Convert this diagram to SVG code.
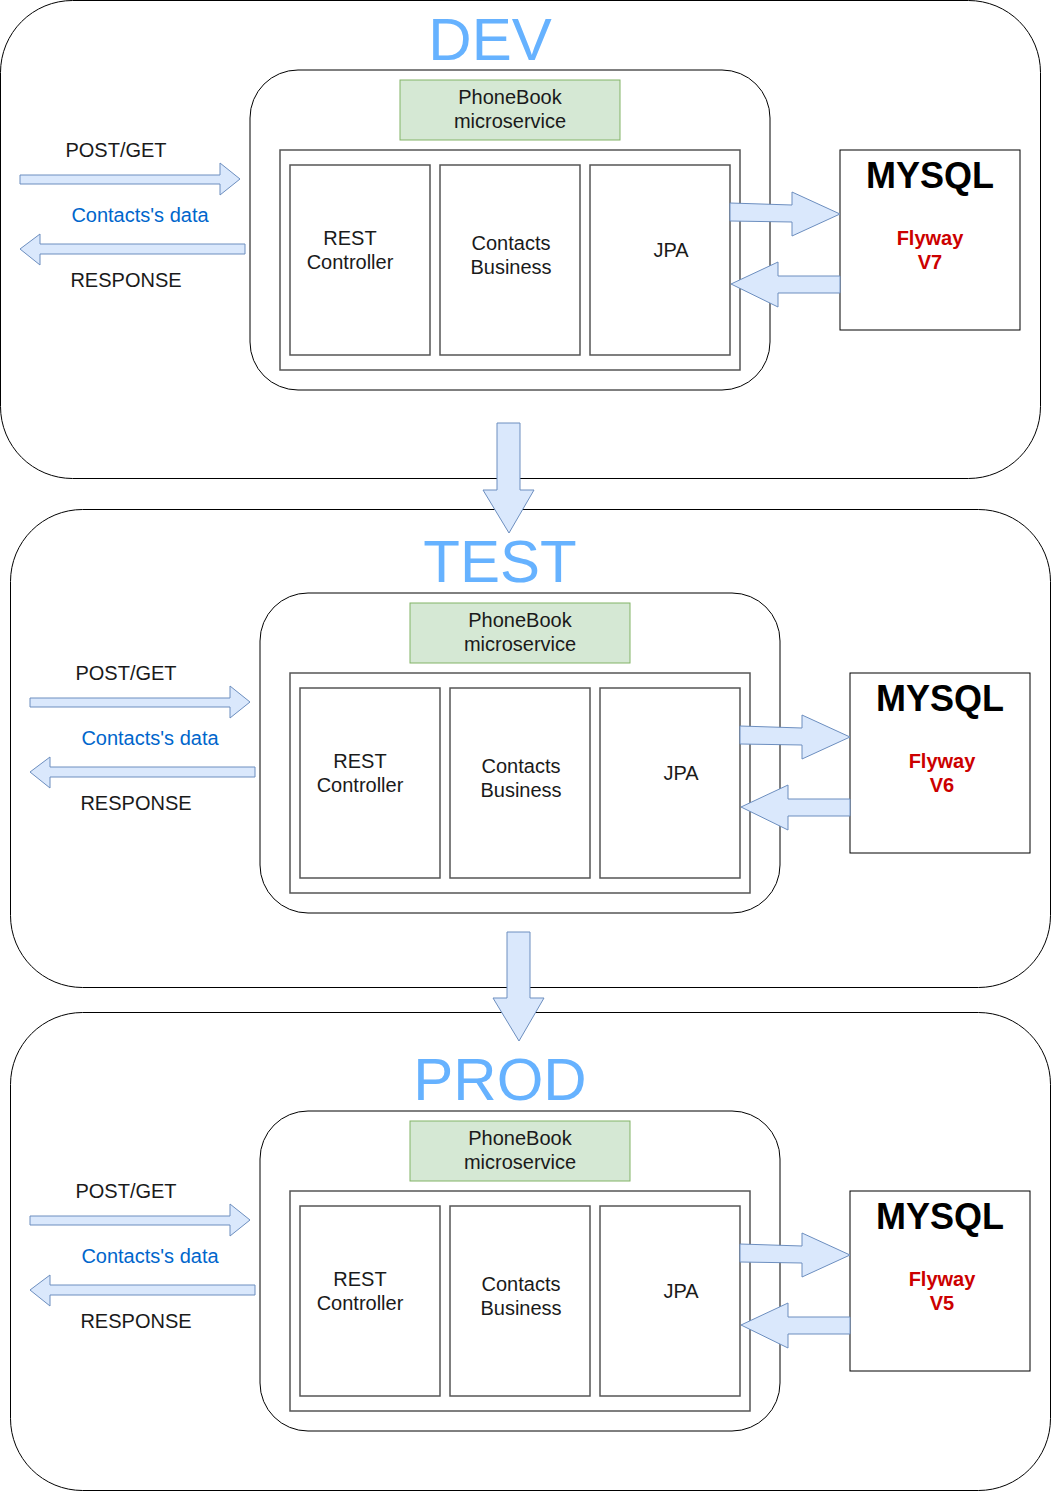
<svg xmlns="http://www.w3.org/2000/svg" width="1051" height="1491" viewBox="0 0 1051 1491">
<defs>
<style>
text{font-family:"Liberation Sans",Arial,sans-serif;font-size:20px;text-anchor:middle;fill:#1a1a1a}
.env{fill:#fff;stroke:#000;stroke-width:1}
.svc{fill:#fff;stroke:#000;stroke-width:1}
.green{fill:#d5e8d4;stroke:#82b366;stroke-width:1}
.box{fill:#fff;stroke:#555;stroke-width:1.5}
.db{fill:#fff;stroke:#000;stroke-width:1}
.arr{fill:#dae8fc;stroke:#6c8ebf;stroke-width:1}
.title{font-size:60px;fill:#66b2ff}
.blue{fill:#0066cc}
.mysql{font-size:36px;font-weight:bold;fill:#000}
.fly{font-weight:bold;fill:#cc0000}
</style>
<g id="section">
<rect class="svc" x="250" y="70" width="520" height="320" rx="48" ry="48"/>
<rect class="green" x="400" y="80" width="220" height="60"/>
<text x="510" y="104">PhoneBook</text>
<text x="510" y="128">microservice</text>
<rect class="box" x="280" y="150" width="460" height="220"/>
<rect class="box" x="290" y="165" width="140" height="190"/>
<rect class="box" x="440" y="165" width="140" height="190"/>
<rect class="box" x="590" y="165" width="140" height="190"/>
<text x="350" y="245">REST</text>
<text x="350" y="269">Controller</text>
<text x="511" y="250">Contacts</text>
<text x="511" y="274">Business</text>
<text x="671" y="257">JPA</text>
<rect class="db" x="840" y="150" width="180" height="180"/>
<text class="mysql" x="930" y="188">MYSQL</text>
<text x="116" y="157">POST/GET</text>
<text class="blue" x="140" y="222">Contacts's data</text>
<text x="126" y="287">RESPONSE</text>
<path class="arr" d="M20,175 L220,175 L220,163 L240,179 L220,195 L220,184 L20,184 Z"/>
<path class="arr" d="M245,244 L40,244 L40,234 L20,249 L40,265 L40,254 L245,254 Z"/>
<path class="arr" d="M730,203 L792,205 L792,192 L840,214 L792,236 L792,222 L730,221 Z"/>
<path class="arr" d="M840,276 L778,276 L778,262 L731,284 L778,307 L778,293 L840,293 Z"/>
</g>
</defs>
<g id="dev">
<rect class="env" x="0.5" y="0.5" width="1040" height="478" rx="72" ry="72"/>
<text class="title" x="490" y="60">DEV</text>
<use href="#section"/>
<text class="fly" x="930" y="245">Flyway</text>
<text class="fly" x="930" y="269">V7</text>
</g>
<g id="test">
<rect class="env" x="10.5" y="509.5" width="1040" height="478" rx="72" ry="72"/>
<text class="title" x="500" y="582">TEST</text>
<use href="#section" transform="translate(10,523)"/>
<text class="fly" x="942" y="768">Flyway</text>
<text class="fly" x="942" y="792">V6</text>
</g>
<g id="prod">
<rect class="env" x="10.5" y="1012.5" width="1040" height="478" rx="72" ry="72"/>
<text class="title" x="500" y="1100">PROD</text>
<use href="#section" transform="translate(10,1041)"/>
<text class="fly" x="942" y="1286">Flyway</text>
<text class="fly" x="942" y="1310">V5</text>
</g>
<g id="connectors">
<path class="arr" d="M497,423 L520,423 L520,490 L534,490 L509,533 L483,490 L497,490 Z"/>
<path class="arr" d="M507,932 L530,932 L530,998 L544,998 L519,1041 L493,998 L507,998 Z"/>
</g>
</svg>
